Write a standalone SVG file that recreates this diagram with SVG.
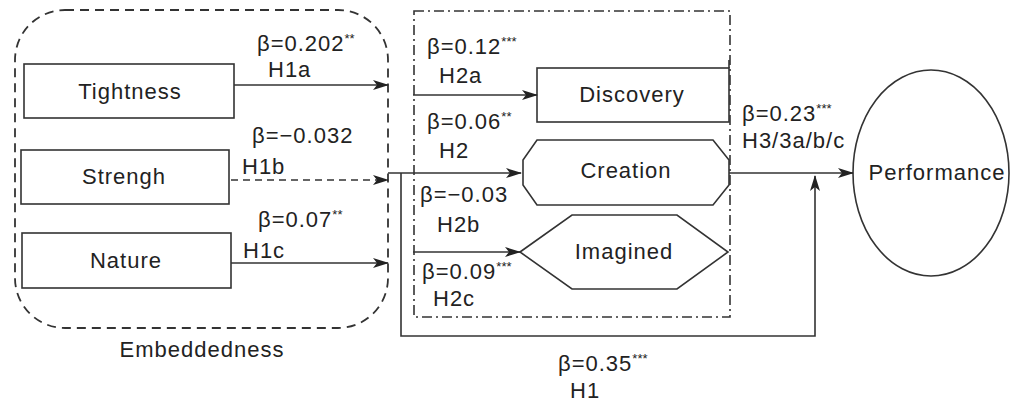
<svg xmlns="http://www.w3.org/2000/svg" width="1010" height="402" viewBox="0 0 1010 402">
<defs>
<marker id="arr" viewBox="0 0 16 10" refX="15" refY="5" markerWidth="16" markerHeight="10" markerUnits="userSpaceOnUse" orient="auto">
<path d="M0,0 L16,5 L0,10 L4,5 Z" fill="#222"/>
</marker>
<style>
text{font-family:"Liberation Sans",Arial,sans-serif;font-size:22px;letter-spacing:1px;fill:#222}
.c{text-anchor:middle}
.sup{font-size:13px;letter-spacing:0}
.box{fill:#fff;stroke:#333;stroke-width:1.6}
.ln{fill:none;stroke:#333;stroke-width:1.6}
.dash{stroke-dasharray:7 5}
.grp1{fill:none;stroke:#333;stroke-width:1.8;stroke-dasharray:9 6}
.grp2{fill:none;stroke:#333;stroke-width:1.6;stroke-dasharray:10 4 2 4}
</style>
</defs>
<rect width="1010" height="402" fill="#fff"/>

<g id="embeddedness">
<rect class="grp1" x="15" y="10" width="373" height="318" rx="50" ry="50"/>
<text class="c" x="202" y="357">Embeddedness</text>
</g>
<g id="innovation-group">
<rect class="grp2" x="414" y="11" width="316" height="306"/>
</g>

<g id="tightness">
<rect class="box" x="24" y="64" width="210" height="54"/>
<text class="c" x="130" y="99">Tightness</text>
</g>
<g id="strengh">
<rect class="box" x="21" y="150" width="208" height="54"/>
<text class="c" x="124" y="184">Strengh</text>
</g>
<g id="nature">
<rect class="box" x="22" y="233" width="209" height="55"/>
<text class="c" x="126" y="268">Nature</text>
</g>
<g id="discovery">
<rect class="box" x="537" y="68" width="192" height="54"/>
<text class="c" x="632" y="102">Discovery</text>
</g>
<g id="creation">
<polygon class="box" points="537,140 713,140 729,160 729,185 713,205 537,205 523,185 523,160"/>
<text class="c" x="626" y="178">Creation</text>
</g>
<g id="imagined">
<polygon class="box" points="520,252 572,215 677,215 728,252 677,289 572,289"/>
<text class="c" x="624" y="259">Imagined</text>
</g>
<g id="performance">
<ellipse class="box" cx="931" cy="173" rx="78" ry="103"/>
<text class="c" x="937" y="180">Performance</text>
</g>

<g id="connectors">
<line class="ln" x1="234" y1="85" x2="388" y2="85" marker-end="url(#arr)"/>
<line class="ln dash" x1="231" y1="180" x2="388" y2="180" marker-end="url(#arr)"/>
<line class="ln" x1="231" y1="263" x2="388" y2="263" marker-end="url(#arr)"/>
<line class="ln" x1="388" y1="173" x2="521" y2="173" marker-end="url(#arr)"/>
<polyline class="ln" points="401,173 401,336 815,336 815,176" marker-end="url(#arr)"/>
<line class="ln" x1="413" y1="95" x2="537" y2="95" marker-end="url(#arr)"/>
<line class="ln" x1="413" y1="252" x2="520" y2="252" marker-end="url(#arr)"/>
<line class="ln" x1="729" y1="173" x2="853" y2="173" marker-end="url(#arr)"/>
<line class="ln" x1="729" y1="60" x2="729" y2="68"/>
</g>

<g id="labels">
<text x="257" y="51">β=0.202<tspan class="sup" dy="-8">**</tspan></text>
<text x="268" y="77">H1a</text>
<text x="252" y="143">β=−0.032</text>
<text x="242" y="174">H1b</text>
<text x="258" y="227">β=0.07<tspan class="sup" dy="-8">**</tspan></text>
<text x="243" y="258">H1c</text>
<text x="427" y="54">β=0.12<tspan class="sup" dy="-8">***</tspan></text>
<text x="439" y="83">H2a</text>
<text x="427" y="129">β=0.06<tspan class="sup" dy="-8">**</tspan></text>
<text x="439" y="158">H2</text>
<text x="420" y="202">β=−0.03</text>
<text x="437" y="232">H2b</text>
<text x="422" y="279">β=0.09<tspan class="sup" dy="-8">***</tspan></text>
<text x="433" y="306">H2c</text>
<text x="742" y="121">β=0.23<tspan class="sup" dy="-8">***</tspan></text>
<text x="742" y="148">H3/3a/b/c</text>
<text x="558" y="371">β=0.35<tspan class="sup" dy="-8">***</tspan></text>
<text x="570" y="398">H1</text>
</g>
</svg>
